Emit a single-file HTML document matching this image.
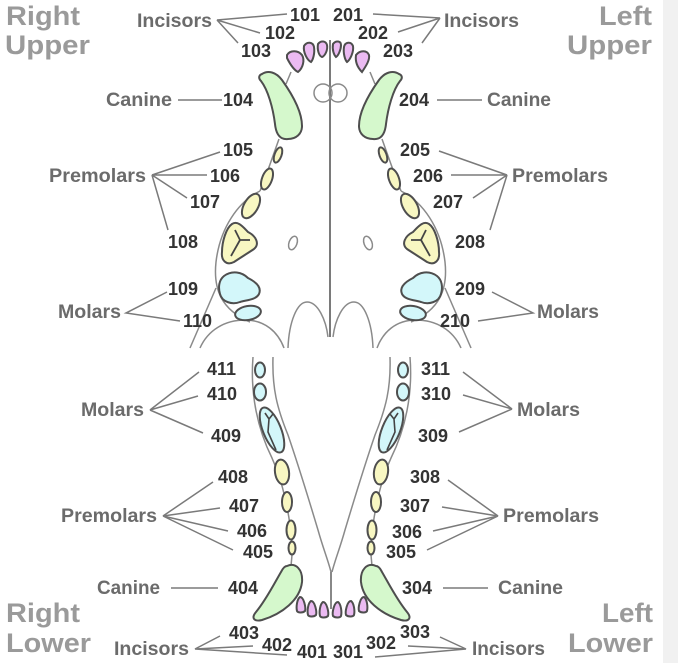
<!DOCTYPE html>
<html><head><meta charset="utf-8"><style>
html,body{margin:0;padding:0;background:#fff;}
svg{display:block}
.n{font-family:"Liberation Sans",Arial,sans-serif;font-weight:bold;font-size:18px;fill:#333}
.l{font-family:"Liberation Sans",Arial,sans-serif;font-weight:bold;font-size:19px;fill:#6b6b6b}
.q{font-family:"Liberation Sans",Arial,sans-serif;font-weight:bold;font-size:27px;fill:#9a9a9a}
.c{stroke:#7a7a7a;stroke-width:1.5;fill:none}
.s{stroke:#8a8a8a;stroke-width:1.5;fill:none}
path.t,ellipse.t{stroke:#4e4e4e;stroke-width:2}
.pk{fill:#ebbaf2}.gr{fill:#d5f8cc}.ye{fill:#f8f7c2}.cy{fill:#d3f7fa}
</style></head><body>
<svg width="678" height="663" viewBox="0 0 678 663" xmlns="http://www.w3.org/2000/svg">
<rect x="0" y="0" width="678" height="663" fill="#fff"/>
<rect x="663" y="0" width="15" height="663" fill="#f1f1f1"/>

<!-- quadrant labels -->
<text class="q" x="6" y="25" textLength="74" lengthAdjust="spacingAndGlyphs">Right</text>
<text class="q" x="5" y="54" textLength="85" lengthAdjust="spacingAndGlyphs">Upper</text>
<text class="q" x="599" y="25" textLength="53" lengthAdjust="spacingAndGlyphs">Left</text>
<text class="q" x="567" y="54" textLength="85" lengthAdjust="spacingAndGlyphs">Upper</text>
<text class="q" x="6" y="622" textLength="74" lengthAdjust="spacingAndGlyphs">Right</text>
<text class="q" x="6" y="652" textLength="85" lengthAdjust="spacingAndGlyphs">Lower</text>
<text class="q" x="602" y="622" textLength="51" lengthAdjust="spacingAndGlyphs">Left</text>
<text class="q" x="568" y="652" textLength="85" lengthAdjust="spacingAndGlyphs">Lower</text>

<!-- ===== UPPER JAW ===== -->
<line x1="330" y1="40" x2="330" y2="337" stroke="#7a7a7a" stroke-width="2"/>
<circle cx="323" cy="93" r="9" class="s"/>
<circle cx="338" cy="93" r="9" class="s"/>

<g id="ul">
  <path class="s" d="M291,72 L286,84"/>
  <path class="s" d="M279,139 Q270,165 260,191"/>
  <path class="s" d="M260,191 C238,202 220,228 216,262 C213,290 222,310 250,322"/>
  <path class="s" d="M216,288 L190,348"/>
  <path class="s" d="M200,348 C208,330 225,320 245,320 C265,320 278,332 284,348"/>
  <path class="s" d="M288,348 C289,322 297,302 307,302 C318,302 326,320 328,337"/>
  <ellipse class="s" cx="293" cy="243" rx="4" ry="7" transform="rotate(20 293 243)"/>
  <path class="gr t" d="M262,74 C268,70 276,72 282,80 C292,94 302,112 302,126 C302,134 296,139 288,139 C280,140 276,134 275,124 C273,108 268,90 261,81 C258,78 259,75 262,74 Z"/>
  <ellipse class="ye t" cx="278" cy="155" rx="3.5" ry="8" transform="rotate(20 278 155)"/>
  <ellipse class="ye t" cx="267" cy="179" rx="5" ry="11" transform="rotate(20 267 179)"/>
  <ellipse class="ye t" cx="251" cy="206" rx="7" ry="13.5" transform="rotate(30 251 206)"/>
  <path class="ye t" d="M232,224 C238,220 244,228 248,232 C256,236 260,244 254,249 C248,253 240,258 234,262 C226,266 221,260 222,252 C222,242 226,228 232,224 Z"/>
  <path d="M235,230 L240,240 L250,240 M240,240 L231,256" stroke="#444" stroke-width="1.8" fill="none"/>
  <path class="cy t" d="M224,276 C232,270 242,272 248,278 C256,282 262,287 259,294 C256,300 246,300 240,302 C232,305 222,302 220,294 C218,287 219,280 224,276 Z"/>
  <ellipse class="cy t" cx="248" cy="313" rx="13" ry="7" transform="rotate(-10 248 313)"/>
</g>
<use href="#ul" transform="matrix(-1 0 0 1 661 0)"/>

<!-- upper incisors -->
<path class="pk t" d="M318,44 C321,40 326,41 327,45 C328,50 325,56 322,57 C319,56 317,50 318,44 Z"/>
<path class="pk t" d="M304,46 C307,41 313,42 314,47 C315,53 313,60 311,62 C307,60 303,52 304,46 Z"/>
<path class="pk t" d="M287,55 C290,50 298,50 302,55 C305,60 303,68 298,72 C294,70 290,64 287,58 Z"/>
<path class="pk t" d="M333,44 C336,40 341,41 341,45 C341,50 338,56 336,57 C334,55 332,50 333,44 Z"/>
<path class="pk t" d="M344,47 C345,42 351,41 353,46 C354,52 350,60 347,62 C345,60 343,53 344,47 Z"/>
<path class="pk t" d="M356,55 C360,50 367,50 369,55 C370,60 366,66 362,72 C358,68 355,62 356,55 Z"/>

<!-- ===== LOWER JAW ===== -->
<g id="ll">
  <path class="s" d="M253,357 C250,395 258,430 272,458 C283,482 290,515 292,545"/>
  <path class="s" d="M273,357 C272,388 277,408 288,435 C300,470 312,510 318,530 C323,548 328,560 331,572"/>
  <path class="s" d="M292,555 L291,566"/>
  <ellipse class="cy t" cx="260" cy="370" rx="5" ry="7.5"/>
  <ellipse class="cy t" cx="260" cy="392" rx="6" ry="8.5"/>
  <ellipse class="cy t" cx="272" cy="430" rx="9" ry="24" transform="rotate(-22 272 430)"/>
  <path d="M265,413 L269,419 L273,414 M269,419 L268,432 L276,450" stroke="#444" stroke-width="1.6" fill="none"/>
  <ellipse class="ye t" cx="282" cy="472" rx="7" ry="12.5" transform="rotate(-8 282 472)"/>
  <ellipse class="ye t" cx="287" cy="502" rx="5" ry="10"/>
  <ellipse class="ye t" cx="291" cy="530" rx="4.5" ry="9.5"/>
  <ellipse class="ye t" cx="292" cy="548" rx="3.5" ry="6.5"/>
  <path class="gr t" d="M287,566 C296,562 303,570 302,582 C300,600 282,614 262,620 C254,622 251,618 256,612 C266,600 274,584 281,572 C283,568 285,566 287,566 Z"/>
</g>
<use href="#ll" transform="matrix(-1 0 0 1 663 0)"/>
<line x1="331" y1="572" x2="331" y2="609" stroke="#7a7a7a" stroke-width="1.8"/>

<!-- lower incisors -->
<path class="pk t" d="M300,597 C304,597 306,608 305,611 C303,613 298,613 297,611 C296,607 297,599 300,597 Z"/>
<path class="pk t" d="M311,601 C315,601 317,612 316,615 C314,617 309,617 308,615 C307,611 308,603 311,601 Z"/>
<path class="pk t" d="M323,602 C327,602 329,613 328,616 C326,618 321,618 320,616 C319,612 320,604 323,602 Z"/>
<path class="pk t" d="M338,602 C334,602 332,613 333,616 C335,618 340,618 341,616 C342,612 341,604 338,602 Z"/>
<path class="pk t" d="M351,601 C347,601 345,612 346,615 C348,617 353,617 354,615 C355,611 354,603 351,601 Z"/>
<path class="pk t" d="M364,597 C360,597 358,608 359,611 C361,613 366,613 367,611 C368,607 367,599 364,597 Z"/>

<!-- ===== connector lines ===== -->
<path class="c" d="M287,14 L217,20 L260,33 M217,20 L238,43"/>
<path class="c" d="M373,14 L440,18 L398,32 M440,18 L422,43"/>
<path class="c" d="M178,100 L222,100 M437,100 L482,100"/>
<path class="c" d="M220,152 L152,175 L207,175 M152,175 L187,198 M152,175 L168,230"/>
<path class="c" d="M439,151 L507,175 L451,175 M507,175 L473,198 M507,175 L490,230"/>
<path class="c" d="M167,292 L126,313 L180,321"/>
<path class="c" d="M492,292 L533,313 L478,321"/>
<path class="c" d="M199,372 L150,410 L198,396 M150,410 L203,433"/>
<path class="c" d="M463,372 L512,409 L463,395 M512,409 L459,432"/>
<path class="c" d="M213,482 L163,516 L220,508 M163,516 L228,531 M163,516 L233,550"/>
<path class="c" d="M448,480 L498,516 L442,507 M498,516 L433,531 M498,516 L427,550"/>
<path class="c" d="M171,588 L218,588 M443,588 L488,588"/>
<path class="c" d="M220,636 L195,649 L253,646 M195,649 L287,655"/>
<path class="c" d="M440,637 L466,649 L408,646 M466,649 L375,657"/>

<!-- ===== category labels ===== -->
<text class="l" x="137" y="27" textLength="75" lengthAdjust="spacingAndGlyphs">Incisors</text>
<text class="l" x="444" y="27" textLength="75" lengthAdjust="spacingAndGlyphs">Incisors</text>
<text class="l" x="106" y="106" textLength="66" lengthAdjust="spacingAndGlyphs">Canine</text>
<text class="l" x="487" y="106" textLength="64" lengthAdjust="spacingAndGlyphs">Canine</text>
<text class="l" x="49" y="182" textLength="97" lengthAdjust="spacingAndGlyphs">Premolars</text>
<text class="l" x="512" y="182" textLength="96" lengthAdjust="spacingAndGlyphs">Premolars</text>
<text class="l" x="58" y="318" textLength="63" lengthAdjust="spacingAndGlyphs">Molars</text>
<text class="l" x="537" y="318" textLength="62" lengthAdjust="spacingAndGlyphs">Molars</text>
<text class="l" x="81" y="416" textLength="63" lengthAdjust="spacingAndGlyphs">Molars</text>
<text class="l" x="517" y="416" textLength="63" lengthAdjust="spacingAndGlyphs">Molars</text>
<text class="l" x="61" y="522" textLength="96" lengthAdjust="spacingAndGlyphs">Premolars</text>
<text class="l" x="503" y="522" textLength="96" lengthAdjust="spacingAndGlyphs">Premolars</text>
<text class="l" x="97" y="594" textLength="63" lengthAdjust="spacingAndGlyphs">Canine</text>
<text class="l" x="498" y="594" textLength="65" lengthAdjust="spacingAndGlyphs">Canine</text>
<text class="l" x="114" y="655" textLength="75" lengthAdjust="spacingAndGlyphs">Incisors</text>
<text class="l" x="472" y="655" textLength="73" lengthAdjust="spacingAndGlyphs">Incisors</text>

<!-- ===== tooth numbers ===== -->
<text class="n" x="290" y="21">101</text>
<text class="n" x="333" y="21">201</text>
<text class="n" x="265" y="39">102</text>
<text class="n" x="358" y="39">202</text>
<text class="n" x="241" y="57">103</text>
<text class="n" x="383" y="57">203</text>
<text class="n" x="223" y="106">104</text>
<text class="n" x="399" y="106">204</text>
<text class="n" x="223" y="156">105</text>
<text class="n" x="210" y="182">106</text>
<text class="n" x="190" y="208">107</text>
<text class="n" x="168" y="248">108</text>
<text class="n" x="400" y="156">205</text>
<text class="n" x="413" y="182">206</text>
<text class="n" x="433" y="208">207</text>
<text class="n" x="455" y="248">208</text>
<text class="n" x="168" y="295">109</text>
<text class="n" x="183" y="327">110</text>
<text class="n" x="455" y="295">209</text>
<text class="n" x="440" y="327">210</text>
<text class="n" x="207" y="375">411</text>
<text class="n" x="207" y="400">410</text>
<text class="n" x="211" y="442">409</text>
<text class="n" x="421" y="375">311</text>
<text class="n" x="421" y="400">310</text>
<text class="n" x="418" y="442">309</text>
<text class="n" x="218" y="483">408</text>
<text class="n" x="229" y="512">407</text>
<text class="n" x="237" y="537">406</text>
<text class="n" x="243" y="558">405</text>
<text class="n" x="410" y="483">308</text>
<text class="n" x="400" y="512">307</text>
<text class="n" x="392" y="538">306</text>
<text class="n" x="386" y="558">305</text>
<text class="n" x="228" y="594">404</text>
<text class="n" x="402" y="594">304</text>
<text class="n" x="229" y="639">403</text>
<text class="n" x="262" y="651">402</text>
<text class="n" x="297" y="658">401</text>
<text class="n" x="333" y="658">301</text>
<text class="n" x="366" y="649">302</text>
<text class="n" x="400" y="638">303</text>
</svg>
</body></html>
